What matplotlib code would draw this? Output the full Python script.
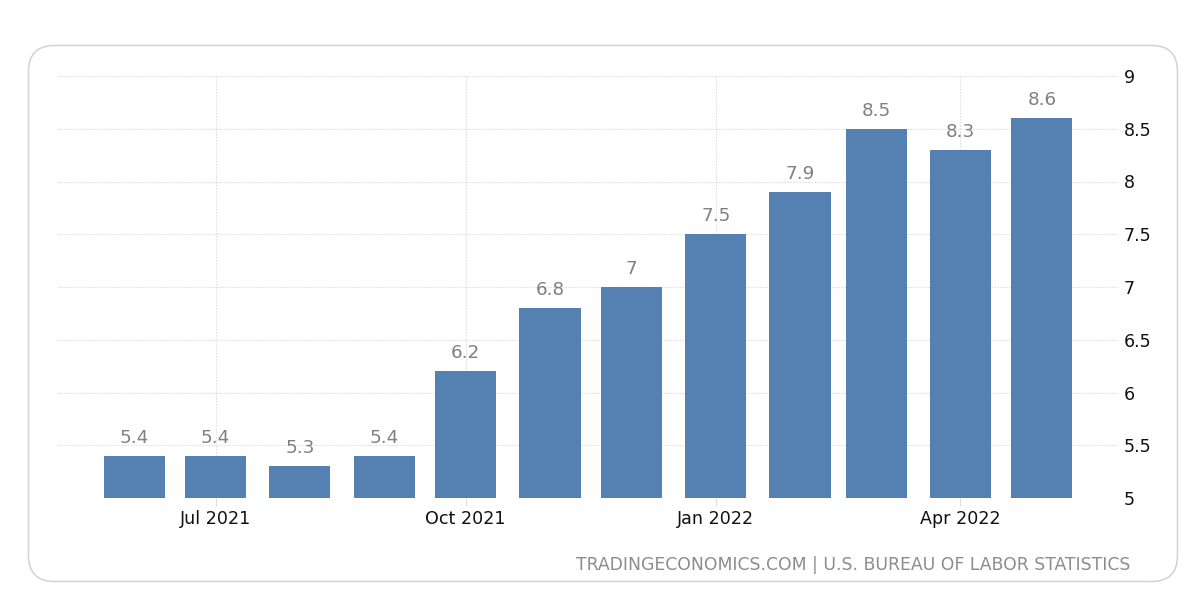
import matplotlib
matplotlib.use('Agg')
import matplotlib.pyplot as plt
from matplotlib.patches import FancyBboxPatch
import datetime as dt

# ---- data ----
months = ['2021-06', '2021-07', '2021-08', '2021-09', '2021-10', '2021-11',
          '2021-12', '2022-01', '2022-02', '2022-03', '2022-04', '2022-05']
values = [5.4, 5.4, 5.3, 5.4, 6.2, 6.8, 7.0, 7.5, 7.9, 8.5, 8.3, 8.6]
value_labels = ['5.4', '5.4', '5.3', '5.4', '6.2', '6.8', '7', '7.5', '7.9', '8.5', '8.3', '8.6']
xtick_months = ['2021-07', '2021-10', '2022-01', '2022-04']
xtick_labels = ['Jul 2021', 'Oct 2021', 'Jan 2022', 'Apr 2022']
yticks = [5, 5.5, 6, 6.5, 7, 7.5, 8, 8.5, 9]
ytick_labels = ['5', '5.5', '6', '6.5', '7', '7.5', '8', '8.5', '9']
source = 'TRADINGECONOMICS.COM | U.S. BUREAU OF LABOR STATISTICS'

dates = [dt.datetime.strptime(m, '%Y-%m') for m in months]
xtick_dates = [dt.datetime.strptime(m, '%Y-%m') for m in xtick_months]

plt.rcParams['font.family'] = ['DejaVu Sans']

fig = plt.figure(figsize=(12.04, 6.08), dpi=100)
fig.patch.set_facecolor('white')

# background rounded frame (pixel coordinates)
bg = fig.add_axes([0, 0, 1, 1], zorder=0)
bg.set_xlim(0, 1204)
bg.set_ylim(608, 0)
bg.axis('off')
bg.add_patch(FancyBboxPatch((28.5, 45.5), 1149, 536,
                            boxstyle='round,pad=0,rounding_size=26',
                            fc='white', ec='#d2d2d2', lw=1.1))

ax = fig.add_axes([58 / 1204, 1 - 498 / 608, 1060 / 1204, 422 / 608], zorder=1)
ax.patch.set_alpha(0)
ax.bar(dates, values, width=22.5, color='#5480b2', zorder=3)
ax.set_ylim(5, 9)
ax.set_xlim(dates[0] - dt.timedelta(days=28), dates[-1] + dt.timedelta(days=28))

ax.yaxis.tick_right()
ax.set_yticks(yticks, ytick_labels)
ax.tick_params(axis='y', length=0, pad=4, labelsize=12.6, labelcolor='#111111')
ax.set_xticks(xtick_dates, xtick_labels)
ax.tick_params(axis='x', length=6, color='#dddddd', width=0.8, pad=3,
               labelsize=12.6, labelcolor='#111111')
ax.grid(True, color='#d8d8d8', linestyle=(0, (1.2, 1.5)), lw=0.8, zorder=0)
for s in ax.spines.values():
    s.set_visible(False)

for d, v, lab in zip(dates, values, value_labels):
    ax.annotate(lab, (d, v), xytext=(0, 9.5), textcoords='offset points',
                ha='center', va='baseline', color='#808080', fontsize=13.2)

fig.text(1130 / 1204, 1 - 565 / 608, source, ha='right', va='center',
         color='#8c8c8c', fontsize=12.4)

fig.savefig('out.png', dpi=100, facecolor='white')
